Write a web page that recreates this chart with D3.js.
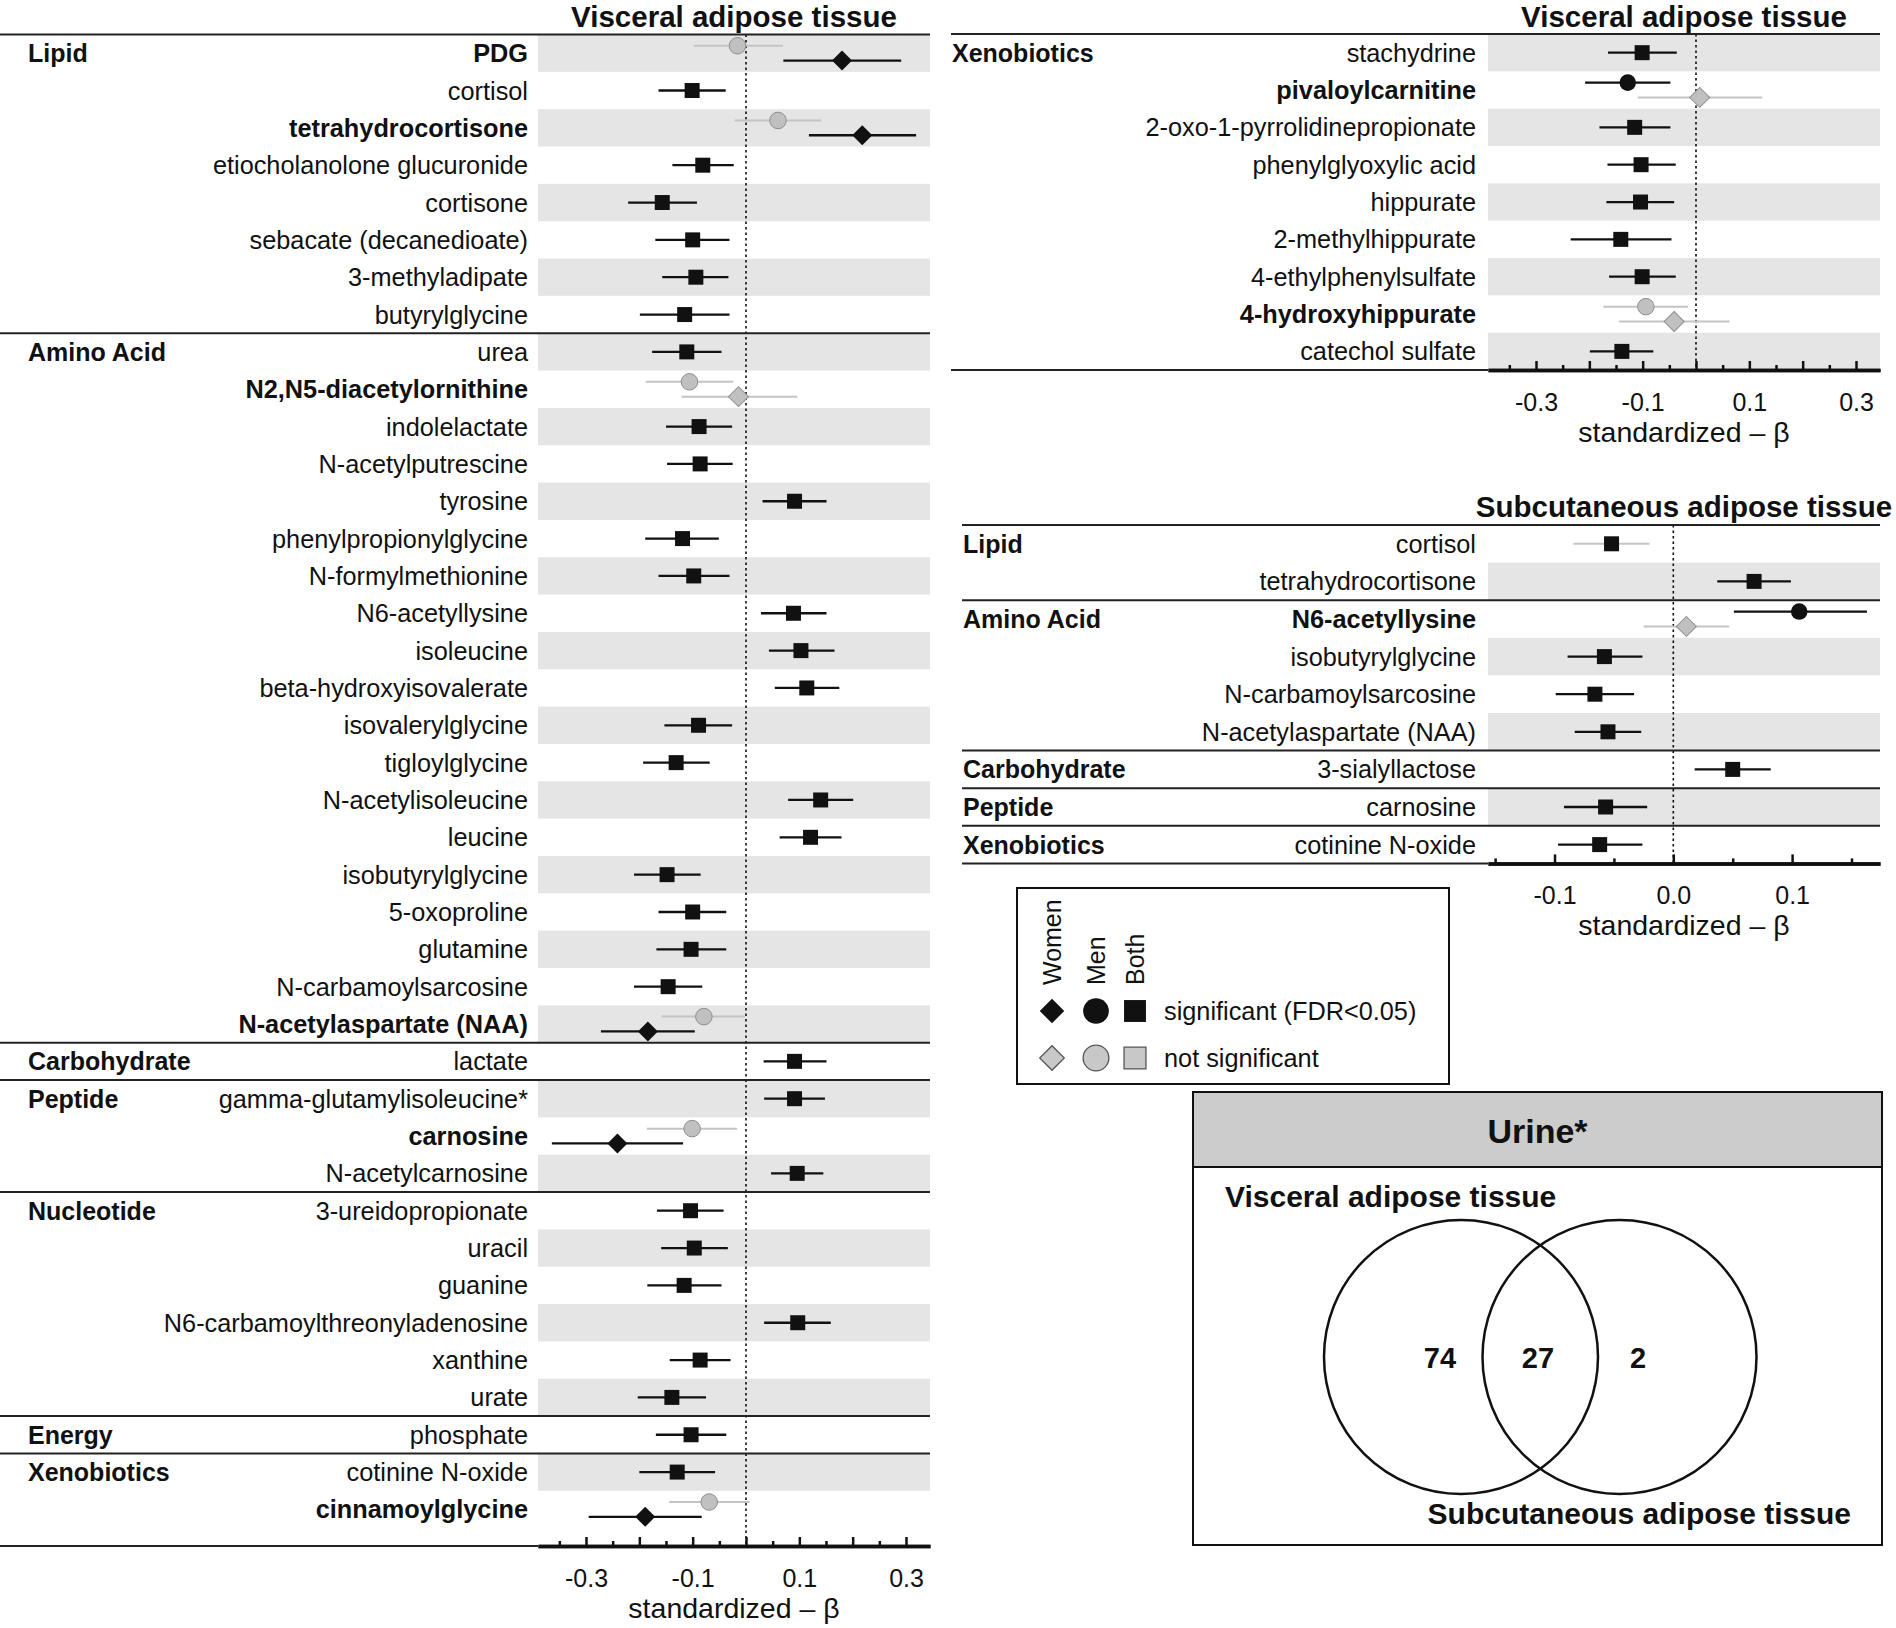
<!DOCTYPE html>
<html>
<head>
<meta charset="utf-8">
<script src="https://cdn.jsdelivr.net/npm/d3@7"></script>
<style>
  body { margin: 0; background: #fff; }
  svg text { font-family: "Liberation Sans", Arial, Helvetica, sans-serif; fill: #111; }
</style>
</head>
<body>
<svg id="chart" width="1896" height="1628"></svg>
<script>
// ---- data: visceral adipose tissue (left panel) ----
var vatNames = ["PDG", "cortisol", "tetrahydrocortisone", "etiocholanolone glucuronide", "cortisone",
  "sebacate (decanedioate)", "3-methyladipate", "butyrylglycine",
  "urea", "N2,N5-diacetylornithine", "indolelactate", "N-acetylputrescine", "tyrosine",
  "phenylpropionylglycine", "N-formylmethionine", "N6-acetyllysine", "isoleucine",
  "beta-hydroxyisovalerate", "isovalerylglycine", "tigloylglycine", "N-acetylisoleucine", "leucine",
  "isobutyrylglycine", "5-oxoproline", "glutamine", "N-carbamoylsarcosine", "N-acetylaspartate (NAA)",
  "lactate", "gamma-glutamylisoleucine*", "carnosine", "N-acetylcarnosine",
  "3-ureidopropionate", "uracil", "guanine", "N6-carbamoylthreonyladenosine", "xanthine", "urate",
  "phosphate", "cotinine N-oxide", "cinnamoylglycine"];
var vatClasses = ["Lipid", "Amino Acid", "Carbohydrate", "Peptide", "Nucleotide", "Energy", "Xenobiotics"];
var vatClassSizes = [8, 19, 1, 3, 6, 1, 2];
// [beta, lower, upper], both sexes
var vatBoth = [null, [-0.101, -0.164, -0.038], null, [-0.081, -0.138, -0.023], [-0.157, -0.221, -0.092],
  [-0.100, -0.170, -0.031], [-0.094, -0.157, -0.033], [-0.115, -0.199, -0.031],
  [-0.111, -0.176, -0.046], null, [-0.088, -0.150, -0.026], [-0.086, -0.148, -0.025], [0.091, 0.031, 0.151],
  [-0.119, -0.189, -0.051], [-0.098, -0.164, -0.031], [0.089, 0.028, 0.151], [0.103, 0.043, 0.166],
  [0.114, 0.054, 0.175], [-0.089, -0.153, -0.026], [-0.131, -0.193, -0.068], [0.140, 0.079, 0.201],
  [0.121, 0.063, 0.179], [-0.148, -0.210, -0.085], [-0.100, -0.164, -0.037], [-0.103, -0.168, -0.037],
  [-0.146, -0.210, -0.082], null,
  [0.091, 0.033, 0.151], [0.091, 0.034, 0.148], null, [0.096, 0.047, 0.145],
  [-0.104, -0.167, -0.042], [-0.097, -0.159, -0.034], [-0.116, -0.185, -0.046], [0.097, 0.034, 0.159],
  [-0.086, -0.143, -0.029], [-0.139, -0.203, -0.075],
  [-0.103, -0.169, -0.037], [-0.129, -0.200, -0.058], null];
// [beta, lower, upper, significant]
var vatWomen = {
  "PDG": [0.180, 0.070, 0.291, 1],
  "tetrahydrocortisone": [0.218, 0.118, 0.319, 1],
  "N2,N5-diacetylornithine": [-0.014, -0.121, 0.096, 0],
  "N-acetylaspartate (NAA)": [-0.184, -0.272, -0.096, 1],
  "carnosine": [-0.241, -0.364, -0.118, 1],
  "cinnamoylglycine": [-0.189, -0.295, -0.083, 1]
};
var vatMen = {
  "PDG": [-0.016, -0.098, 0.069, 0],
  "tetrahydrocortisone": [0.060, -0.021, 0.141, 0],
  "N2,N5-diacetylornithine": [-0.106, -0.188, -0.024, 0],
  "N-acetylaspartate (NAA)": [-0.079, -0.158, -0.002, 0],
  "carnosine": [-0.101, -0.186, -0.017, 0],
  "cinnamoylglycine": [-0.069, -0.144, 0.007, 0]
};

// ---- data: visceral adipose tissue (right, xenobiotics continued) ----
var vat2Names = ["stachydrine", "pivaloylcarnitine", "2-oxo-1-pyrrolidinepropionate", "phenylglyoxylic acid",
  "hippurate", "2-methylhippurate", "4-ethylphenylsulfate", "4-hydroxyhippurate", "catechol sulfate"];
var vat2Classes = ["Xenobiotics"];
var vat2ClassSizes = [9];
var vat2Both = [[-0.101, -0.165, -0.036], null, [-0.115, -0.181, -0.048], [-0.103, -0.166, -0.038],
  [-0.104, -0.168, -0.041], [-0.141, -0.235, -0.046], [-0.101, -0.163, -0.038], null, [-0.139, -0.199, -0.080]];
var vat2Women = {
  "pivaloylcarnitine": [0.007, -0.109, 0.124, 0],
  "4-hydroxyhippurate": [-0.041, -0.144, 0.063, 0]
};
var vat2Men = {
  "pivaloylcarnitine": [-0.128, -0.208, -0.048, 1],
  "4-hydroxyhippurate": [-0.094, -0.174, -0.015, 0]
};

// ---- data: subcutaneous adipose tissue ----
var satNames = ["cortisol", "tetrahydrocortisone", "N6-acetyllysine", "isobutyrylglycine", "N-carbamoylsarcosine",
  "N-acetylaspartate (NAA)", "3-sialyllactose", "carnosine", "cotinine N-oxide"];
var satClasses = ["Lipid", "Amino Acid", "Carbohydrate", "Peptide", "Xenobiotics"];
var satClassSizes = [2, 4, 1, 1, 1];
var satBoth = [[-0.052, -0.084, -0.020], [0.068, 0.037, 0.099], null, [-0.058, -0.089, -0.026],
  [-0.066, -0.099, -0.033], [-0.055, -0.083, -0.027], [0.050, 0.018, 0.082], [-0.057, -0.092, -0.022],
  [-0.062, -0.097, -0.026]];
var satWomen = { "N6-acetyllysine": [0.011, -0.025, 0.047, 0] };
var satMen = { "N6-acetyllysine": [0.106, 0.051, 0.163, 1] };
var satGreyCI = ["cortisol"];

var visTicks = [-0.3, -0.2, -0.1, 0, 0.1, 0.2, 0.3];
var visMinor = [-0.35, -0.25, -0.15, -0.05, 0.05, 0.15, 0.25];
var visLabels = [-0.3, -0.1, 0.1, 0.3];
var satTicks = [-0.1, 0, 0.1];
var satMinor = [-0.15, -0.05, 0.05, 0.15];
var satLabels = [-0.1, 0, 0.1];

var vennCounts = [74, 27, 2];

// ---- drawing ----
var svg = d3.select("#chart");
svg.append("rect").attr("width", 1896).attr("height", 1628).attr("fill", "#fff");

var GREY_FILL = "#c0c0c0", GREY_STROKE = "#8f8f8f", GREY_LINE = "#c4c4c4", BAND = "#e5e5e5", INK = "#111";

var symSquare = d3.symbol(d3.symbolSquare, 225)();
var symDiamond = d3.symbol(d3.symbolSquare, 200)();
var symCircle = d3.symbol(d3.symbolCircle, 215)();

function drawPanel(p) {
  var g = svg.append("g");
  var n = p.names.length;
  var y = d3.scaleBand().domain(d3.range(n)).range([p.top, p.top + n * p.rowH]);
  var x = d3.scaleLinear().domain(p.domain).range(p.range);
  var cy = function(i) { return y(i) + y.bandwidth() / 2; };

  g.selectAll("rect.band").data(d3.range(n).filter(function(i) { return i % 2 === p.shade; }))
    .enter().append("rect")
    .attr("x", p.range[0]).attr("width", p.range[1] - p.range[0])
    .attr("y", function(i) { return y(i); }).attr("height", y.bandwidth())
    .attr("fill", BAND);

  g.append("text").attr("x", (p.range[0] + p.range[1]) / 2).attr("y", p.titleY)
    .attr("text-anchor", "middle").attr("font-size", 29.5).attr("font-weight", "bold").text(p.title);

  g.append("line").attr("x1", x(0)).attr("x2", x(0)).attr("y1", p.top).attr("y2", p.axisY)
    .attr("stroke", INK).attr("stroke-width", 1.6).attr("stroke-dasharray", "2.5,3");

  // class separators and labels
  var starts = [], acc = 0;
  p.classSizes.forEach(function(s) { starts.push(acc); acc += s; });
  g.selectAll("line.sep").data(starts).enter().append("line")
    .attr("x1", p.lineX0).attr("x2", p.range[1])
    .attr("y1", function(i) { return y(i); }).attr("y2", function(i) { return y(i); })
    .attr("stroke", "#222").attr("stroke-width", 2);
  g.selectAll("text.cls").data(starts).enter().append("text")
    .attr("x", p.catX).attr("y", function(i) { return cy(i) + 9; })
    .attr("font-size", 25).attr("font-weight", "bold")
    .text(function(i, k) { return p.classes[k]; });

  // row labels
  g.selectAll("text.row").data(p.names).enter().append("text")
    .attr("x", p.labelX).attr("y", function(d, i) { return cy(i) + 9; })
    .attr("text-anchor", "end").attr("font-size", 25.3)
    .attr("font-weight", function(d) { return p.women[d] ? "bold" : "normal"; })
    .text(function(d) { return d; });

  // marks
  var marks = [];
  p.names.forEach(function(name, i) {
    var b = p.both[i];
    if (b) marks.push({ i: i, kind: "both", v: b, sig: 1, off: 0, greyCI: (p.greyCI || []).indexOf(name) >= 0 });
    if (p.men[name]) marks.push({ i: i, kind: "men", v: p.men[name], sig: p.men[name][3], off: -7.4 });
    if (p.women[name]) marks.push({ i: i, kind: "women", v: p.women[name], sig: p.women[name][3], off: 7.4 });
  });
  marks.sort(function(a, b) { return a.sig - b.sig; });

  g.selectAll("line.ci").data(marks).enter().append("line")
    .attr("x1", function(d) { return x(d.v[1]); }).attr("x2", function(d) { return x(d.v[2]); })
    .attr("y1", function(d) { return cy(d.i) + d.off; }).attr("y2", function(d) { return cy(d.i) + d.off; })
    .attr("stroke", function(d) { return d.sig && !d.greyCI ? INK : GREY_LINE; })
    .attr("stroke-width", function(d) { return d.sig && !d.greyCI ? 2.3 : 2; });

  g.selectAll("path.mk").data(marks).enter().append("path")
    .attr("d", function(d) { return d.kind === "both" ? symSquare : d.kind === "men" ? symCircle : symDiamond; })
    .attr("transform", function(d) {
      return "translate(" + x(d.v[0]) + "," + (cy(d.i) + d.off) + ")" + (d.kind === "women" ? " rotate(45)" : "");
    })
    .attr("fill", function(d) { return d.sig ? INK : GREY_FILL; })
    .attr("stroke", function(d) { return d.sig ? "none" : GREY_STROKE; })
    .attr("stroke-width", 1);

  // bottom line + axis
  g.append("line").attr("x1", p.lineX0).attr("x2", p.range[0]).attr("y1", p.axisY).attr("y2", p.axisY)
    .attr("stroke", "#222").attr("stroke-width", 2);

  var minorG = g.append("g").attr("transform", "translate(0," + p.axisY + ")")
    .call(d3.axisBottom(x).tickValues(p.minor).tickSizeInner(-5).tickSizeOuter(0).tickFormat(""));
  var majorG = g.append("g").attr("transform", "translate(0," + p.axisY + ")")
    .call(d3.axisBottom(x).tickValues(p.ticks).tickSizeInner(-9).tickSizeOuter(0)
      .tickFormat(function(d) {
        return p.labels.some(function(l) { return Math.abs(l - d) < 1e-9; }) ? d.toFixed(1) : "";
      }));
  [minorG, majorG].forEach(function(a) {
    a.attr("font-size", null).attr("font-family", null);
    a.selectAll(".domain").attr("stroke", INK).attr("stroke-width", 3.5);
    a.selectAll(".tick line").attr("stroke", INK).attr("stroke-width", 2.5);
  });
  majorG.selectAll(".tick text").attr("y", 41).attr("dy", null).attr("font-size", 25).attr("fill", INK);

  g.append("text").attr("x", (p.range[0] + p.range[1]) / 2).attr("y", p.axisY + 72)
    .attr("text-anchor", "middle").attr("font-size", 28.5).text("standardized \u2013 \u03b2");
}

drawPanel({
  names: vatNames, classes: vatClasses, classSizes: vatClassSizes, both: vatBoth, women: vatWomen, men: vatMen,
  domain: [-0.39, 0.345], range: [538, 930], top: 34.5, rowH: 37.34, axisY: 1546, shade: 0,
  lineX0: 0, catX: 28, labelX: 528, title: "Visceral adipose tissue", titleY: 26.5,
  ticks: visTicks, minor: visMinor, labels: visLabels
});
drawPanel({
  names: vat2Names, classes: vat2Classes, classSizes: vat2ClassSizes, both: vat2Both, women: vat2Women, men: vat2Men,
  domain: [-0.39, 0.345], range: [1488, 1880], top: 34, rowH: 37.34, axisY: 370, shade: 0,
  lineX0: 951, catX: 952, labelX: 1476, title: "Visceral adipose tissue", titleY: 26.5,
  ticks: visTicks, minor: visMinor, labels: visLabels
});
drawPanel({
  names: satNames, classes: satClasses, classSizes: satClassSizes, both: satBoth, women: satWomen, men: satMen,
  greyCI: satGreyCI,
  domain: [-0.156, 0.174], range: [1488, 1880], top: 525, rowH: 37.6, axisY: 863.4, shade: 1,
  lineX0: 962, catX: 963, labelX: 1476, title: "Subcutaneous adipose tissue", titleY: 517,
  ticks: satTicks, minor: satMinor, labels: satLabels
});

// ---- legend ----
var leg = svg.append("g");
leg.append("rect").attr("x", 1017).attr("y", 888).attr("width", 432).attr("height", 196)
  .attr("fill", "#fff").attr("stroke", INK).attr("stroke-width", 2);
var legCols = [{ name: "Women", x: 1052, sym: d3.symbol(d3.symbolSquare, 300)(), rot: 45 },
               { name: "Men", x: 1096, sym: d3.symbol(d3.symbolCircle, 520)(), rot: 0 },
               { name: "Both", x: 1135, sym: d3.symbol(d3.symbolSquare, 480)(), rot: 0 }];
legCols.forEach(function(c) {
  leg.append("text").attr("transform", "translate(" + (c.x + 9) + ",985) rotate(-90)")
    .attr("font-size", 25).text(c.name);
  leg.append("path").attr("d", c.sym).attr("transform", "translate(" + c.x + ",1011) rotate(" + c.rot + ")")
    .attr("fill", INK);
  leg.append("path").attr("d", c.sym).attr("transform", "translate(" + c.x + ",1058) rotate(" + c.rot + ")")
    .attr("fill", "#c8c8c8").attr("stroke", "#555").attr("stroke-width", 1.3);
});
leg.append("text").attr("x", 1164).attr("y", 1020).attr("font-size", 25.3).text("significant (FDR<0.05)");
leg.append("text").attr("x", 1164).attr("y", 1067).attr("font-size", 25.3).text("not significant");

// ---- venn ----
var venn = svg.append("g");
venn.append("rect").attr("x", 1193).attr("y", 1092).attr("width", 689).attr("height", 453)
  .attr("fill", "#fff").attr("stroke", INK).attr("stroke-width", 2);
venn.append("rect").attr("x", 1193).attr("y", 1092).attr("width", 689).attr("height", 75)
  .attr("fill", "#cccccc").attr("stroke", INK).attr("stroke-width", 2);
venn.append("text").attr("x", 1537.5).attr("y", 1143).attr("text-anchor", "middle")
  .attr("font-size", 34).attr("font-weight", "bold").text("Urine*");
venn.append("text").attr("x", 1225).attr("y", 1207).attr("font-size", 30).attr("font-weight", "bold")
  .text("Visceral adipose tissue");
venn.append("text").attr("x", 1851).attr("y", 1524).attr("text-anchor", "end").attr("font-size", 30)
  .attr("font-weight", "bold").text("Subcutaneous adipose tissue");
var vennX = d3.scaleLinear().domain([0, 1]).range([1461, 1619.5]);
venn.selectAll("circle").data([0, 1]).enter().append("circle")
  .attr("cx", function(d) { return vennX(d); }).attr("cy", 1357).attr("r", 137)
  .attr("fill", "none").attr("stroke", INK).attr("stroke-width", 2.5);
var vennPos = [1440, 1538, 1638];
venn.selectAll("text.cnt").data(vennCounts).enter().append("text")
  .attr("x", function(d, i) { return vennPos[i]; }).attr("y", 1368).attr("text-anchor", "middle")
  .attr("font-size", 29).attr("font-weight", "bold").text(function(d) { return d; });
</script>
</body>
</html>
